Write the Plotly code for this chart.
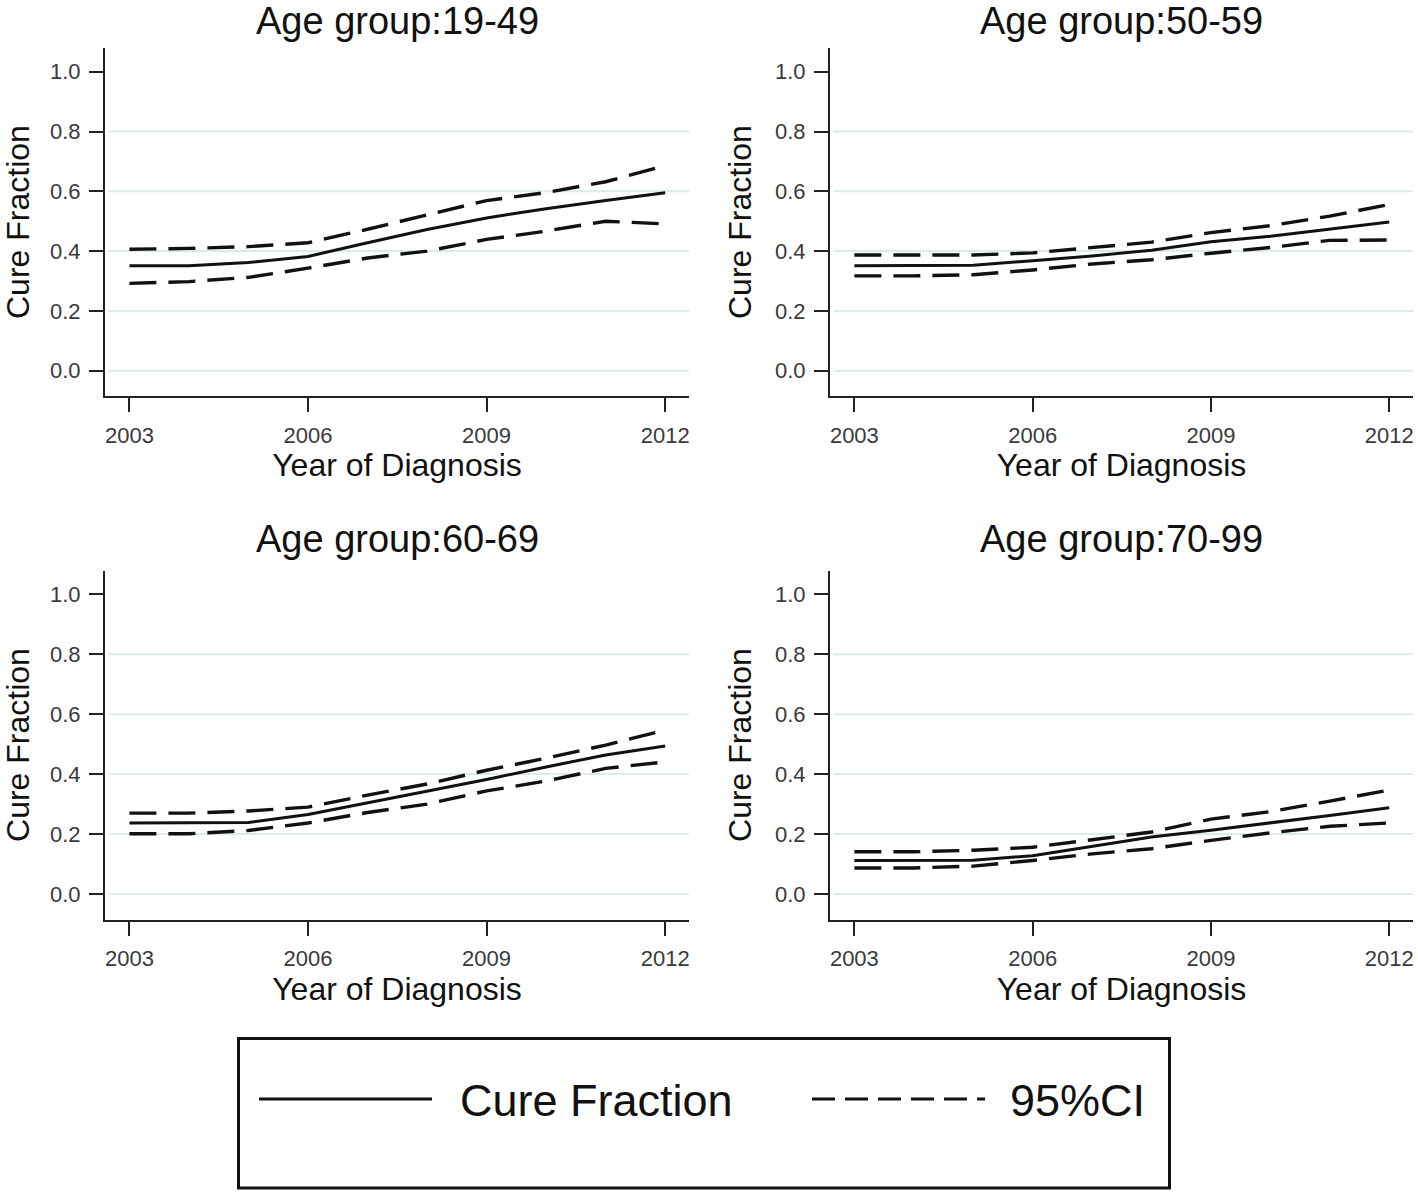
import plotly.graph_objects as go

# ---------------- data ----------------
years = [2003, 2004, 2005, 2006, 2007, 2008, 2009, 2010, 2011, 2012]

group_titles = ["Age group:19-49", "Age group:50-59", "Age group:60-69", "Age group:70-99"]

cf_1949 = [0.351, 0.351, 0.362, 0.382, 0.428, 0.472, 0.511, 0.542, 0.569, 0.595]
hi_1949 = [0.406, 0.409, 0.415, 0.428, 0.473, 0.521, 0.569, 0.596, 0.632, 0.686]
lo_1949 = [0.292, 0.298, 0.312, 0.343, 0.377, 0.400, 0.439, 0.467, 0.500, 0.491]

cf_5059 = [0.351, 0.351, 0.353, 0.368, 0.384, 0.403, 0.431, 0.450, 0.474, 0.497]
hi_5059 = [0.387, 0.387, 0.387, 0.394, 0.412, 0.430, 0.462, 0.485, 0.517, 0.556]
lo_5059 = [0.317, 0.317, 0.321, 0.337, 0.357, 0.371, 0.393, 0.412, 0.436, 0.437]

cf_6069 = [0.237, 0.237, 0.239, 0.265, 0.304, 0.343, 0.382, 0.424, 0.464, 0.494]
hi_6069 = [0.270, 0.270, 0.277, 0.290, 0.330, 0.367, 0.413, 0.453, 0.497, 0.547]
lo_6069 = [0.201, 0.201, 0.212, 0.237, 0.272, 0.300, 0.344, 0.377, 0.419, 0.441]

cf_7099 = [0.112, 0.112, 0.113, 0.128, 0.159, 0.190, 0.213, 0.237, 0.262, 0.288]
hi_7099 = [0.141, 0.141, 0.146, 0.156, 0.181, 0.207, 0.250, 0.275, 0.310, 0.347]
lo_7099 = [0.087, 0.087, 0.093, 0.112, 0.134, 0.151, 0.179, 0.204, 0.226, 0.237]

x_tickvals = [2003, 2006, 2009, 2012]
y_tickvals = [0.0, 0.2, 0.4, 0.6, 0.8, 1.0]
y_ticktext = ["0.0", "0.2", "0.4", "0.6", "0.8", "1.0"]
grid_vals = [0.0, 0.2, 0.4, 0.6, 0.8]

legend_labels = ["Cure Fraction", "95%CI"]
x_title = "Year of Diagnosis"
y_title = "Cure Fraction"

# ---------------- layout geometry ----------------
W, H = 1418, 1193
FONT = "Liberation Sans, Arial, Helvetica, sans-serif"

def px_x(p):
    return p / W

def px_y(p):
    return 1 - p / H

x_doms = [[px_x(105), px_x(689)], [px_x(830), px_x(1413)]]
y_doms = [[px_y(396.1), px_y(48.1)], [px_y(919.5), px_y(570.6)]]
title_y_px = [20.5, 539.5]

x_range = [2002.59, 2012.40]
y_range = [-0.085, 1.079]

panels = [
    (group_titles[0], cf_1949, hi_1949, lo_1949, 0, 0),
    (group_titles[1], cf_5059, hi_5059, lo_5059, 1, 0),
    (group_titles[2], cf_6069, hi_6069, lo_6069, 0, 1),
    (group_titles[3], cf_7099, hi_7099, lo_7099, 1, 1),
]

fig = go.Figure()
layout_axes = {}
annotations = []
shapes = []

LINE_C = "#111111"
DASH = "27px,12px"
LW = 3.4

for i, (ttl, cf, hi, lo, col, row) in enumerate(panels):
    n = "" if i == 0 else str(i + 1)
    xa, ya = "x" + n, "y" + n
    fig.add_trace(go.Scatter(x=years, y=hi, mode="lines", xaxis=xa, yaxis=ya,
                             line=dict(color=LINE_C, width=LW, dash=DASH),
                             name=legend_labels[1], showlegend=False))
    fig.add_trace(go.Scatter(x=years, y=lo, mode="lines", xaxis=xa, yaxis=ya,
                             line=dict(color=LINE_C, width=LW, dash=DASH),
                             name=legend_labels[1], showlegend=False))
    fig.add_trace(go.Scatter(x=years, y=cf, mode="lines", xaxis=xa, yaxis=ya,
                             line=dict(color=LINE_C, width=3),
                             name=legend_labels[0], showlegend=False))

    layout_axes["xaxis" + n] = dict(
        domain=x_doms[col], range=x_range, anchor=ya,
        tickvals=x_tickvals, ticks="outside", ticklen=14, tickwidth=2,
        tickcolor="#222222", showline=True, linecolor="#222222", linewidth=2,
        showgrid=False, zeroline=False,
        tickfont=dict(family=FONT, size=22, color="#3a3a3a"),
        ticklabelstandoff=4,
        title=dict(text=x_title, font=dict(family=FONT, size=32, color="#111111"),
                   standoff=2),
        automargin=False,
    )
    layout_axes["yaxis" + n] = dict(
        domain=y_doms[row], range=y_range, anchor=xa,
        tickvals=y_tickvals, ticktext=y_ticktext, ticks="outside", ticklen=14,
        tickwidth=2, tickcolor="#222222", showline=True, linecolor="#222222",
        linewidth=2, showgrid=False, zeroline=False,
        tickfont=dict(family=FONT, size=22, color="#3a3a3a"),
        ticklabelstandoff=4,
        title=dict(text=y_title, font=dict(family=FONT, size=32, color="#111111"),
                   standoff=14),
        automargin=False,
    )

    for v in grid_vals:
        shapes.append(dict(type="line", xref=xa + " domain", yref=ya,
                           x0=0.006, x1=1, y0=v, y1=v, layer="below",
                           line=dict(color="#dde9ec", width=2)))

    annotations.append(dict(text=ttl, xref="paper", yref="paper",
                            x=sum(x_doms[col]) / 2, y=px_y(title_y_px[row]),
                            xanchor="center", yanchor="middle", showarrow=False,
                            font=dict(family=FONT, size=38, color="#111111")))

# ---------------- custom legend box ----------------
shapes.append(dict(type="rect", xref="paper", yref="paper",
                   x0=px_x(238.5), x1=px_x(1169.5), y0=px_y(1188), y1=px_y(1038.5),
                   line=dict(color="#111111", width=3), fillcolor="rgba(0,0,0,0)"))
shapes.append(dict(type="line", xref="paper", yref="paper",
                   x0=px_x(259), x1=px_x(432), y0=px_y(1099), y1=px_y(1099),
                   line=dict(color=LINE_C, width=3)))
shapes.append(dict(type="line", xref="paper", yref="paper",
                   x0=px_x(812), x1=px_x(985), y0=px_y(1099), y1=px_y(1099),
                   line=dict(color=LINE_C, width=3, dash="23px,10px")))
annotations.append(dict(text=legend_labels[0], xref="paper", yref="paper",
                        x=px_x(458), y=px_y(1100), xanchor="left", yanchor="middle",
                        showarrow=False,
                        font=dict(family=FONT, size=45, color="#111111")))
annotations.append(dict(text=legend_labels[1], xref="paper", yref="paper",
                        x=px_x(1008), y=px_y(1100), xanchor="left", yanchor="middle",
                        showarrow=False,
                        font=dict(family=FONT, size=45, color="#111111")))

fig.update_layout(
    width=W, height=H,
    margin=dict(l=0, r=0, t=0, b=0),
    paper_bgcolor="white", plot_bgcolor="white",
    showlegend=False,
    annotations=annotations,
    shapes=shapes,
    **layout_axes,
)

fig.write_html("out.html",
               config={"displayModeBar": False},
               post_script="document.body.style.margin='0';document.body.style.padding='0';")
